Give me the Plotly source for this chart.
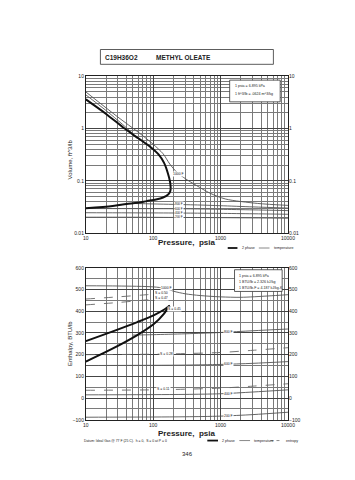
import plotly.graph_objects as go
import math

W, H = 355, 480

# ---------------- data: top chart (volume) ----------------
P_VAP_TOP = [10, 20, 37.6, 60, 90, 120, 145, 165, 178, 182]
V_VAP_TOP = [3.6, 1.9, 1.0, 0.65, 0.45, 0.32, 0.22, 0.14, 0.095, 0.072]
P_LIQ_TOP = [182, 178, 165, 140, 110, 80, 58, 40, 25, 10]
V_LIQ_TOP = [0.072, 0.062, 0.054, 0.048, 0.044, 0.041, 0.038, 0.036, 0.033, 0.030]

P_T1000_TOP = [10, 30, 60, 100, 140, 176, 222, 300, 435, 700, 1180, 3550, 10000]
V_T1000_TOP = [5.0, 1.65, 0.85, 0.5, 0.33, 0.21, 0.148, 0.11, 0.082, 0.058, 0.045, 0.037, 0.034]
P_T800V_TOP = [10, 20, 35, 50]
V_T800V_TOP = [4.4, 2.2, 1.2, 0.80]
P_T800L_TOP = [50, 100, 200, 500, 1000, 3000, 10000]
V_T800L_TOP = [0.037, 0.0362, 0.0355, 0.0345, 0.0335, 0.0318, 0.0302]
P_LIQ_ISO = [10, 30, 100, 200, 500, 1000, 3000, 10000]
V_T600_TOP = [0.0296, 0.0295, 0.0294, 0.0293, 0.0290, 0.0286, 0.0279, 0.0270]
V_T400_TOP = [0.0246, 0.0245, 0.0244, 0.0243, 0.0241, 0.0239, 0.0235, 0.0230]
V_T200_TOP = [0.0202, 0.0202, 0.0201, 0.0200, 0.0199, 0.0198, 0.0196, 0.0193]

# ---------------- data: bottom chart (enthalpy) ----------------
P_VAP_BOT = [10, 24, 58, 103, 150, 176]
H_VAP_BOT = [262, 305, 350, 382, 410, 426]
P_LIQ_BOT = [176, 160, 144, 103, 58, 24, 10]
H_LIQ_BOT = [426, 408, 388, 342, 290, 225, 168]

P_T1000_BOT = [10, 30, 100, 150, 200, 300, 500, 1000, 2000, 5000, 10000]
H_T1000_BOT = [517, 516, 512, 505, 492, 480, 472, 466, 464, 470, 476]
P_S_VAP = [10, 30, 80, 140]
H_S050 = [456, 466, 476, 483]
H_S047 = [429, 440, 452, 460]
P_S_LIQ = [10, 100, 300, 1000, 3000, 10000]
H_S028 = [200, 202, 205, 210, 220, 232]
H_S011 = [36, 38, 41, 46, 55, 66]
P_T800L_BOT = [50, 100, 300, 1000, 3000, 10000]
H_T800L_BOT = [290, 292, 296, 302, 310, 318]
P_LIQ_BOT_ISO = [10, 100, 300, 1000, 3000, 10000]
H_T600_BOT = [150, 151, 152, 155, 160, 168]
H_T400_BOT = [15, 16, 17, 20, 28, 38]
H_T200_BOT = [-88, -87, -86, -83, -76, -65]

X_TICKS = [10, 100, 1000, 10000]
X_TICKTEXT = ["10", "100", "1000", "10000"]
V_TICKS = [0.01, 0.1, 1, 10]
V_TICKTEXT = ["0.01", "0.1", "1", "10"]
H_TICKS = [-100, 0, 100, 200, 300, 400, 500, 600]

# ---------------- layout helpers (pixel -> paper) ----------------
def px(x):
    return x / W

def py(y):
    return 1 - y / H

X0, X1 = 77, 285
TOP_Y0, TOP_Y1 = 66, 225
BOT_Y0, BOT_Y1 = 260, 414

FONT = "Liberation Sans, Arial, sans-serif"
TWO = dict(color="#111111", width=2.0, shape="spline", smoothing=0.8)
TEMP = dict(color="#555555", width=0.9, shape="spline", smoothing=0.8)
ENT = dict(color="#666666", width=0.9, dash="dash", shape="spline", smoothing=0.8)

fig = go.Figure()

def add(x, y, line, xa="x", ya="y"):
    fig.add_trace(go.Scatter(x=x, y=y, mode="lines", line=line, xaxis=xa, yaxis=ya,
                             showlegend=False, hoverinfo="skip"))

# top chart traces
add(P_T1000_TOP, V_T1000_TOP, TEMP)
add(P_T800V_TOP, V_T800V_TOP, TEMP)
add(P_T800L_TOP, V_T800L_TOP, TEMP)
add(P_LIQ_ISO, V_T600_TOP, TEMP)
add(P_LIQ_ISO, V_T400_TOP, TEMP)
add(P_LIQ_ISO, V_T200_TOP, TEMP)
add(P_VAP_TOP, V_VAP_TOP, TWO)
add(P_LIQ_TOP, V_LIQ_TOP, TWO)
fig.add_trace(go.Scatter(x=[10], y=[1], mode="markers", marker=dict(opacity=0),
                         xaxis="x", yaxis="y3", showlegend=False, hoverinfo="skip"))

# bottom chart traces
add(P_T1000_BOT, H_T1000_BOT, TEMP, "x2", "y2")
add(P_S_VAP, H_S050, ENT, "x2", "y2")
add(P_S_VAP, H_S047, ENT, "x2", "y2")
add(P_S_LIQ, H_S028, ENT, "x2", "y2")
add(P_S_LIQ, H_S011, ENT, "x2", "y2")
add(P_T800L_BOT, H_T800L_BOT, TEMP, "x2", "y2")
add(P_LIQ_BOT_ISO, H_T600_BOT, TEMP, "x2", "y2")
add(P_LIQ_BOT_ISO, H_T400_BOT, TEMP, "x2", "y2")
add(P_LIQ_BOT_ISO, H_T200_BOT, TEMP, "x2", "y2")
add(P_VAP_BOT, H_VAP_BOT, TWO, "x2", "y2")
add(P_LIQ_BOT, H_LIQ_BOT, TWO, "x2", "y2")
fig.add_trace(go.Scatter(x=[10], y=[0], mode="markers", marker=dict(opacity=0),
                         xaxis="x2", yaxis="y4", showlegend=False, hoverinfo="skip"))

GRID = "#444444"
MINOR = "#7a7a7a"
tickfont = dict(family=FONT, size=5, color="#222")

xcommon = dict(type="log", range=[1, 4], domain=[px(X0), px(X1)], tickvals=X_TICKS,
               ticktext=X_TICKTEXT, tickfont=tickfont, showline=True, linecolor="#222",
               linewidth=0.8, mirror=True, showgrid=True, gridcolor=GRID, gridwidth=0.8,
               zeroline=False, ticks="",
               minor=dict(dtick="D1", showgrid=True, gridcolor=MINOR, gridwidth=0.6, ticks=""))

layout = dict(
    width=W, height=H, margin=dict(l=0, r=0, t=0, b=0),
    paper_bgcolor="white", plot_bgcolor="white", showlegend=False,
    font=dict(family=FONT, color="#222"),
    xaxis=dict(**xcommon, anchor="y"),
    yaxis=dict(type="log", range=[-2, 1], domain=[py(TOP_Y1), py(TOP_Y0)],
               tickvals=V_TICKS, ticktext=V_TICKTEXT, tickfont=tickfont,
               showline=True, linecolor="#222", linewidth=0.8, mirror=True,
               showgrid=True, gridcolor=GRID, gridwidth=0.8, ticks="", anchor="x",
               minor=dict(dtick="D1", showgrid=True, gridcolor=MINOR, gridwidth=0.6, ticks="")),
    yaxis3=dict(type="log", range=[-2, 1], overlaying="y", side="right", anchor="x",
                tickvals=V_TICKS, ticktext=V_TICKTEXT, tickfont=tickfont, showgrid=False,
                showline=False, ticks="", zeroline=False),
    xaxis2=dict(**xcommon, anchor="y2"),
    yaxis2=dict(range=[-100, 600], domain=[py(BOT_Y1), py(BOT_Y0)], tickvals=H_TICKS,
                tickfont=tickfont, showline=True, linecolor="#222", linewidth=0.8, mirror=True,
                showgrid=True, gridcolor=GRID, gridwidth=0.8, ticks="", zeroline=False,
                anchor="x2",
                minor=dict(dtick=50, showgrid=True, gridcolor=MINOR, gridwidth=0.6, ticks="")),
    yaxis4=dict(range=[-100, 600], overlaying="y2", side="right", anchor="x2",
                tickvals=H_TICKS, tickfont=tickfont, showgrid=False, showline=False,
                ticks="", zeroline=False),
)
fig.update_layout(**layout)

ann = []
shapes = []

def ptext(x, y, text, size=5, xanchor="center", bold=False, angle=0, color="#222"):
    t = f"<b>{text}</b>" if bold else text
    ann.append(dict(x=px(x), y=py(y), xref="paper", yref="paper", text=t, showarrow=False,
                    xanchor=xanchor, yanchor="middle", textangle=angle,
                    font=dict(family=FONT, size=size, color=color)))

def dlabel(P, v, text, xa="x", ya="y", logy=True, size=3.4):
    ann.append(dict(x=math.log10(P), y=(math.log10(v) if logy else v), xref=xa, yref=ya,
                    text=text, showarrow=False, bgcolor="white", borderpad=0,
                    font=dict(family=FONT, size=size, color="#111")))

# title box
shapes.append(dict(type="rect", xref="paper", yref="paper", x0=px(92), x1=px(270),
                   y0=py(54), y1=py(39), line=dict(color="#333", width=0.8)))
ptext(95, 47, "C19H36O2", size=6.5, xanchor="left", bold=True)
ptext(147, 47, "METHYL OLEATE", size=6.5, xanchor="left", bold=True)

# axis titles
ptext(61, 150, "Volume, ft^3/lb", size=6, angle=-90)
ptext(60, 337, "Enthalpy, BTU/lb", size=6, angle=-90)
ptext(181, 234, "Pressure,  psia", size=8, bold=True)
ptext(181, 428, "Pressure,  psia", size=8, bold=True)

# top conversion box
shapes.append(dict(type="rect", xref="paper", yref="paper", x0=px(225), x1=px(277),
                   y0=py(92), y1=py(70), fillcolor="white", line=dict(color="#333", width=0.8)))
ptext(228, 76, "1 psia = 6.895 kPa", size=3.6, xanchor="left")
ptext(228, 84, "1 ft^3/lb = .0624 m^3/kg", size=3.6, xanchor="left")

# bottom conversion box
shapes.append(dict(type="rect", xref="paper", yref="paper", x0=px(230), x1=px(279),
                   y0=py(284), y1=py(262), fillcolor="white", line=dict(color="#333", width=0.8)))
ptext(233, 268, "1 psia = 6.895 kPa", size=3.6, xanchor="left")
ptext(233, 274, "1 BTU/lb = 2.326 kJ/kg", size=3.6, xanchor="left")
ptext(233, 280, "1 BTU/lb-F = 4.187 kJ/kg-K", size=3.6, xanchor="left")

# legends
def legline(x0, x1, y, line):
    shapes.append(dict(type="line", xref="paper", yref="paper", x0=px(x0), x1=px(x1),
                       y0=py(y), y1=py(y), line=line))

legline(223, 233, 240, dict(color="#111", width=1.8))
ptext(236, 240, "2 phase", size=3.6, xanchor="left")
legline(255, 266, 240, dict(color="#888", width=1.0))
ptext(269, 240, "temperature", size=3.6, xanchor="left")

legline(202, 213, 435, dict(color="#111", width=1.8))
ptext(215, 435, "2 phase", size=3.6, xanchor="left")
legline(235, 246, 435, dict(color="#888", width=1.0))
ptext(248, 435, "temperature", size=3.6, xanchor="left")
legline(267, 278, 435, dict(color="#888", width=1.0, dash="dot"))
ptext(281, 435, "entropy", size=3.6, xanchor="left")

ptext(73, 435, "Datum: Ideal Gas @ 77 F (25 C).  h = 0,  S = 0 at P = 0", size=3.4, xanchor="left")
ptext(182, 449, "346", size=6)

# curve labels (top)
dlabel(238, 0.137, "1000 F")
dlabel(238, 0.0355, "800 F", size=3.0)
dlabel(238, 0.0293, "600 F", size=3.0)
dlabel(238, 0.0243, "400 F", size=3.0)
dlabel(238, 0.0200, "200 F", size=3.0)

# curve labels (bottom)
dlabel(160, 505, "1000 F", "x2", "y2", False)
dlabel(134, 482, "S = 0.50", "x2", "y2", False)
dlabel(134, 459, "S = 0.47", "x2", "y2", False)
dlabel(209, 409, "S = 0.45", "x2", "y2", False)
dlabel(160, 203, "S = 0.28", "x2", "y2", False)
dlabel(144, 41, "S = 0.11", "x2", "y2", False)
dlabel(1300, 302, "800 F", "x2", "y2", False)
dlabel(1300, 155, "600 F", "x2", "y2", False)
dlabel(1300, 20, "400 F", "x2", "y2", False)
dlabel(1300, -83, "200 F", "x2", "y2", False)

fig.update_layout(annotations=ann, shapes=shapes)
fig.write_html("out.html")
